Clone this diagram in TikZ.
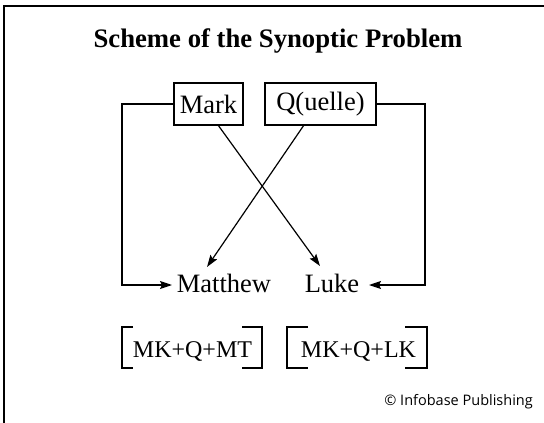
\documentclass[tikz,border=0pt]{standalone}
\usepackage{fontspec}
\setmainfont{Liberation Serif}
\newfontfamily\copyfont{Open Sans}
\usetikzlibrary{arrows.meta}
\begin{document}
\begin{tikzpicture}[x=1pt,y=-1pt,
  lbl/.style={font=\fontsize{26.5}{30}\selectfont, inner sep=0pt},
  formula/.style={font=\fontsize{24}{28}\selectfont, inner sep=0pt},
  srcbox/.style={draw, line width=1.2pt, font=\fontsize{26.5}{30}\selectfont, minimum height=42pt, inner sep=0pt},
  conn/.style={line width=1.2pt},
  arr/.style={conn, -{Stealth[length=12pt,width=8pt,inset=2pt]}},
  frame/.style={line width=2pt}]
\useasboundingbox (0,0) rectangle (544,423);
% frame (top and left only)
\draw[frame] (544,6) -- (4,6) -- (4,423);
% title
\node[anchor=base, font=\fontsize{26.7}{30}\selectfont\bfseries, inner sep=0pt] (title) at (278,47) {Scheme of the Synoptic Problem};
% source boxes
\node[srcbox, minimum width=69pt] (mark) at (208.5,104) {Mark};
\node[srcbox, minimum width=111pt] (q) at (320.5,104) {Q(uelle)};
% gospels
\node[lbl, anchor=base] (matthew) at (224,292) {Matthew};
\node[lbl, anchor=base] (luke) at (332,292) {Luke};
% connector points
\coordinate (lc1) at (122,104);
\coordinate (lc2) at (122,285);
\coordinate (mtip) at (172,285);
\coordinate (rc1) at (425,104);
\coordinate (rc2) at (425,285);
\coordinate (ltip) at (369,285);
\coordinate (markb) at (218,125);
\coordinate (qb) at (304,125);
\coordinate (toluke) at (320,266);
\coordinate (tomatt) at (207,267);
% side connectors
\draw[arr] (mark.west) -- (lc1) -- (lc2) -- (mtip);
\draw[arr] (q.east) -- (rc1) -- (rc2) -- (ltip);
% crossing connectors
\draw[arr] (markb) -- (toluke);
\draw[arr] (qb) -- (tomatt);
% bracketed formulas
\node[formula, anchor=base] (f1) at (192.5,357) {MK+Q+MT};
\node[formula, anchor=base] (f2) at (358.5,357) {MK+Q+LK};
\draw[conn] (133,327) -- (122,327) -- (122,368) -- (133,368);
\draw[conn] (242,327) -- (262,327) -- (262,368) -- (242,368);
\draw[conn] (308,327) -- (287,327) -- (287,368) -- (308,368);
\draw[conn] (405,327) -- (427,327) -- (427,368) -- (405,368);
% copyright
\node[anchor=base east, inner sep=0pt, font=\copyfont\fontsize{14.5}{16}\selectfont] (copy) at (533,405) {© Infobase Publishing};
\end{tikzpicture}
\end{document}
